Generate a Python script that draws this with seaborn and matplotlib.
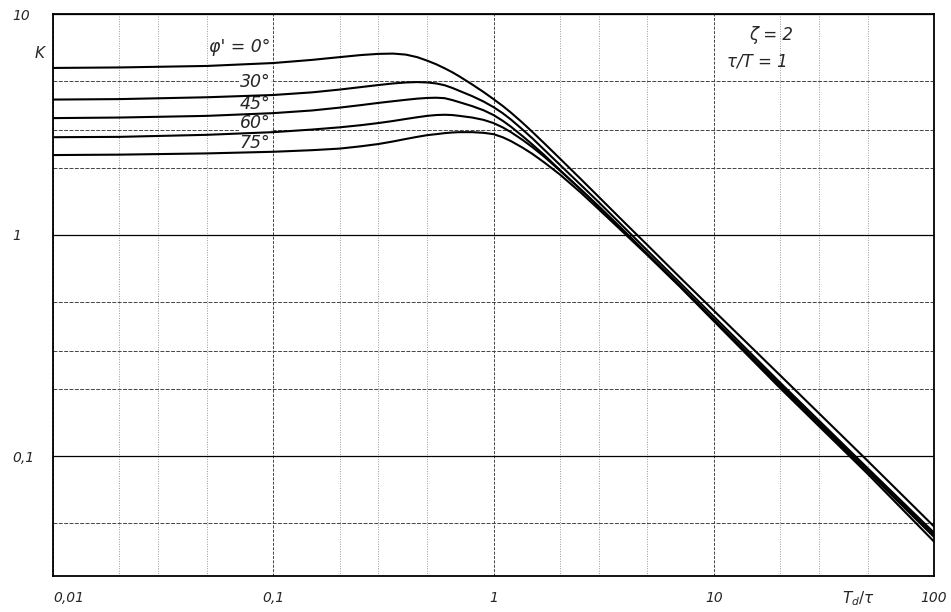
import numpy as np
import pandas as pd
import matplotlib
matplotlib.use("Agg")
import matplotlib.pyplot as plt
import matplotlib.ticker as mticker
import seaborn as sns

# ---- data ----
x_vals = [0.01, 0.02, 0.05, 0.1, 0.15, 0.2, 0.25, 0.3, 0.35, 0.4, 0.45, 0.5,
          0.55, 0.6, 0.65, 0.7, 0.8, 0.9, 1.0, 1.1, 1.2, 1.35, 1.5, 1.7, 2.0,
          2.5, 3, 4, 5, 7, 10, 20, 50, 100]
k_phi0 = [5.70, 5.73, 5.82, 6.00, 6.20, 6.38, 6.52, 6.60, 6.62, 6.55, 6.38, 6.15,
          5.92, 5.68, 5.45, 5.22, 4.80, 4.44, 4.12, 3.84, 3.58, 3.23, 2.93, 2.60, 2.22,
          1.785, 1.49, 1.12, 0.90, 0.645, 0.455, 0.232, 0.095, 0.048]
k_phi30 = [4.10, 4.12, 4.20, 4.30, 4.42, 4.55, 4.67, 4.77, 4.85, 4.90, 4.92, 4.90,
           4.85, 4.76, 4.63, 4.49, 4.25, 4.02, 3.79, 3.56, 3.33, 3.01, 2.74, 2.43, 2.08,
           1.68, 1.41, 1.06, 0.85, 0.61, 0.428, 0.215, 0.088, 0.045]
k_phi45 = [3.38, 3.40, 3.46, 3.56, 3.66, 3.77, 3.87, 3.96, 4.03, 4.09, 4.14, 4.17,
           4.18, 4.16, 4.08, 3.99, 3.83, 3.67, 3.49, 3.29, 3.09, 2.81, 2.57, 2.30, 1.97,
           1.60, 1.345, 1.02, 0.82, 0.59, 0.415, 0.210, 0.086, 0.044]
k_phi60 = [2.77, 2.78, 2.84, 2.92, 3.00, 3.07, 3.14, 3.21, 3.28, 3.35, 3.41, 3.46,
           3.49, 3.50, 3.49, 3.46, 3.40, 3.32, 3.21, 3.07, 2.92, 2.70, 2.50, 2.26, 1.96,
           1.60, 1.35, 1.02, 0.82, 0.59, 0.413, 0.207, 0.085, 0.043]
k_phi75 = [2.30, 2.31, 2.34, 2.38, 2.42, 2.46, 2.52, 2.58, 2.65, 2.72, 2.78, 2.83,
           2.86, 2.89, 2.91, 2.92, 2.92, 2.90, 2.86, 2.77, 2.66, 2.49, 2.33, 2.13, 1.88,
           1.55, 1.31, 1.00, 0.81, 0.585, 0.408, 0.203, 0.083, 0.041]
phi_labels = ["φ' = 0°", "30°", "45°", "60°", "75°"]
series = [k_phi0, k_phi30, k_phi45, k_phi60, k_phi75]

x_ticks = [0.01, 0.1, 1, 10, 100]
x_ticklabels = ["0,01", "0,1", "1", "10", "100"]
y_ticks = [0.1, 1, 10]
y_ticklabels = ["0,1", "1", "10"]

rows = []
for lab, ks in zip(phi_labels, series):
    for xv, kv in zip(x_vals, ks):
        rows.append({"x": xv, "K": kv, "phi": lab})
df = pd.DataFrame(rows)

sns.set_style("white")
plt.rcParams["font.family"] = ["DejaVu Sans"]
plt.rcParams["mathtext.fontset"] = "dejavusans"

fig = plt.figure(figsize=(9.51, 6.12), dpi=100)
ax = fig.add_axes([53 / 951, 1 - 576 / 612, (934 - 53) / 951, (576 - 14) / 612])

sns.lineplot(data=df, x="x", y="K", hue="phi", palette=["black"] * 5,
             estimator=None, legend=False, linewidth=1.5, ax=ax, zorder=3)

ax.set_xscale("log")
ax.set_yscale("log")
ax.set_xlim(0.01, 100)
ax.set_ylim(10 ** (1 - (576 - 14) / 221), 10)

# ticks
ax.xaxis.set_major_locator(mticker.FixedLocator(x_ticks))
ax.yaxis.set_major_locator(mticker.FixedLocator(y_ticks))
ax.xaxis.set_major_formatter(mticker.FixedFormatter(x_ticklabels))
ax.yaxis.set_major_formatter(mticker.FixedFormatter(y_ticklabels))
xminor = [m * 10.0 ** e for e in range(-2, 2) for m in (2, 3, 5)]
yminor = [0.05, 0.2, 0.3, 0.5, 2, 3, 5]
ax.xaxis.set_minor_locator(mticker.FixedLocator(xminor))
ax.yaxis.set_minor_locator(mticker.FixedLocator(yminor))
ax.xaxis.set_minor_formatter(mticker.NullFormatter())
ax.yaxis.set_minor_formatter(mticker.NullFormatter())

ax.tick_params(axis="both", which="both", length=0)
ax.tick_params(axis="x", pad=11, labelsize=10)
ax.tick_params(axis="y", pad=29, labelsize=10)
for lbl in ax.get_xticklabels():
    lbl.set_fontstyle("italic")
for lbl in ax.get_yticklabels():
    lbl.set_fontstyle("italic")
    lbl.set_horizontalalignment("left")
ax.get_xticklabels()[0].set_horizontalalignment("left")

# grid
ax.yaxis.grid(True, which="major", color="black", linestyle="-", linewidth=0.9)
ax.yaxis.grid(True, which="minor", color="#444444", linestyle=(0, (4, 1.5)), linewidth=0.7)
ax.xaxis.grid(True, which="major", color="#444444", linestyle=(0, (3, 1.5)), linewidth=0.7)
ax.xaxis.grid(True, which="minor", color="#999999", linestyle=(0, (1, 1.5)), linewidth=0.7)
ax.set_axisbelow(True)

for sp in ax.spines.values():
    sp.set_visible(True)
    sp.set_color("black")
    sp.set_linewidth(1.3)

ax.set_xlabel("")
ax.set_ylabel("K", rotation=0, fontsize=11, fontstyle="italic", va="center", ha="center")
ax.yaxis.set_label_coords(-13 / 881, 1 - (53 - 14) / 562)

# curve labels (just above their curves, right-aligned near x = 0.1)
label_y = [7.09, 4.92, 3.92, 3.21, 2.61]
for lab, yv in zip(phi_labels, label_y):
    ax.text(0.097, yv, lab, ha="right", va="center", fontsize=12.5,
            fontstyle="italic", zorder=2,
            bbox=dict(facecolor="white", edgecolor="none", pad=0.5))

# parameters
ax.text(0.84, 0.963, "ζ = 2", transform=ax.transAxes, ha="right", va="center",
        fontsize=12, fontstyle="italic")
ax.text(0.834, 0.915, "τ/T = 1", transform=ax.transAxes, ha="right", va="center",
        fontsize=12, fontstyle="italic")

# x axis label
ax.text(45.6, -0.04, r"$T_d/\tau$", transform=ax.get_xaxis_transform(),
        ha="center", va="center", fontsize=11)

fig.savefig("out.png", dpi=100)
